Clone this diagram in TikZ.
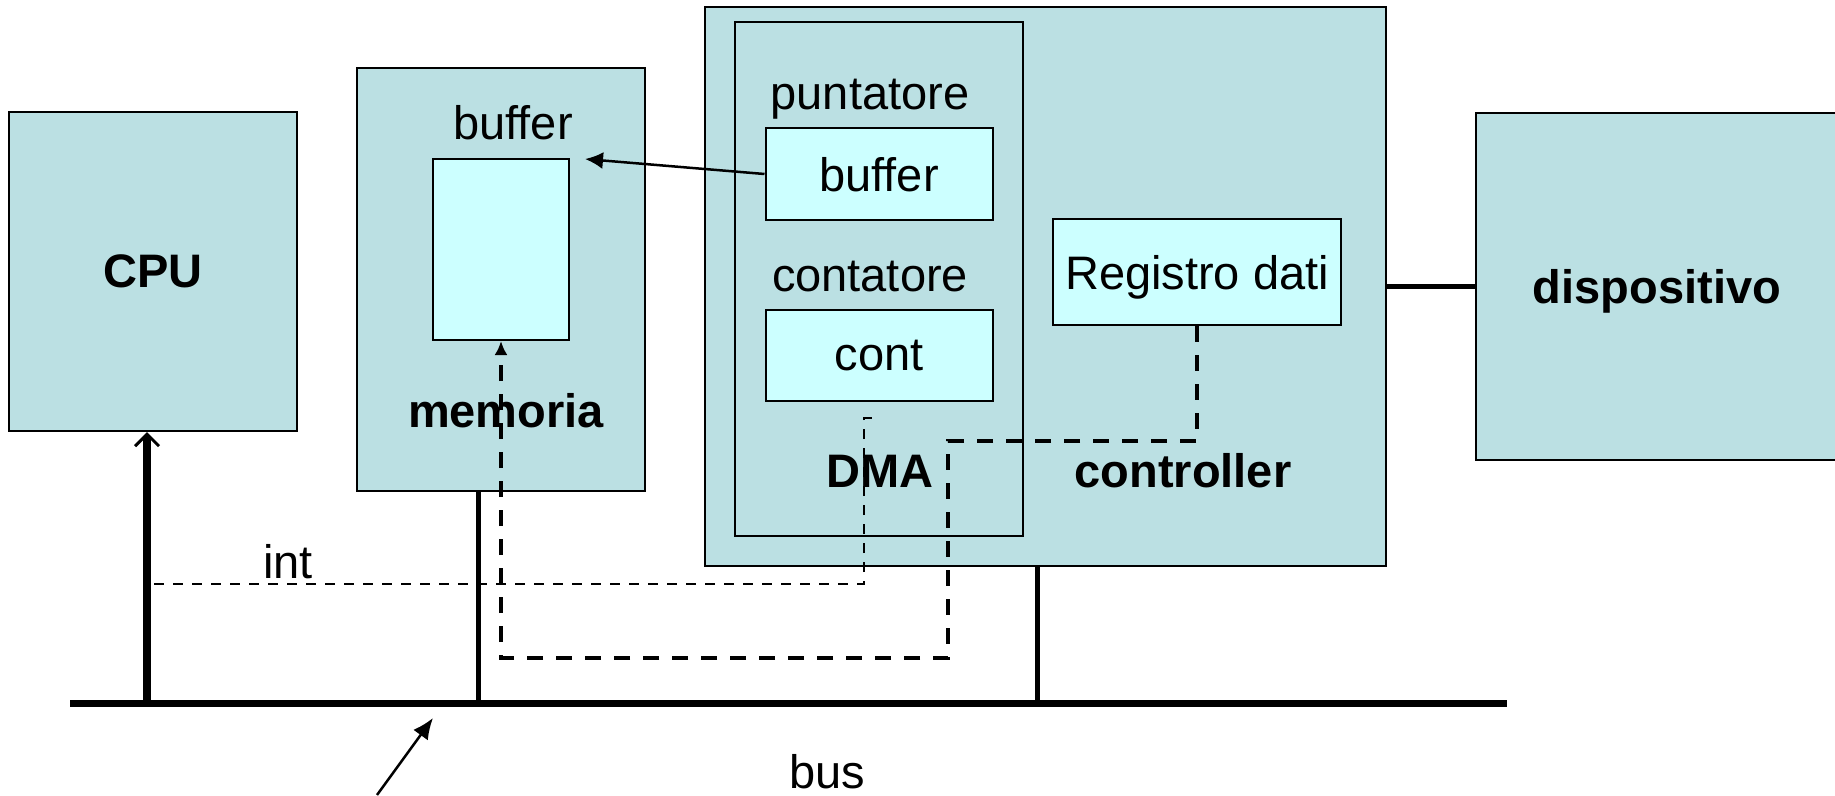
\documentclass[tikz,border=0pt]{standalone}
\usepackage{fontspec}
\setmainfont{Liberation Sans}
\usetikzlibrary{arrows.meta}
\definecolor{boxfill}{RGB}{187,224,227}
\definecolor{regfill}{RGB}{204,255,255}
\tikzset{
  box/.style={draw, line width=2pt, fill=boxfill, inner sep=0pt, text depth=0pt, font=\fontsize{47}{56}\selectfont\bfseries},
  reg/.style={draw, line width=2pt, fill=regfill, inner sep=0pt, text depth=0pt, font=\fontsize{47}{56}\selectfont},
  txt/.style={font=\fontsize{47}{56}\selectfont, inner sep=0pt, anchor=base},
  btxt/.style={txt, font=\fontsize{47}{56}\selectfont\bfseries},
  tap/.style={line width=5pt},
  intline/.style={line width=2.5pt, dash pattern=on 10pt off 9pt},
  dmaline/.style={line width=3.5pt, dash pattern=on 16pt off 13pt},
}
\begin{document}
\begin{tikzpicture}[x=1pt, y=-1pt]
  \useasboundingbox (0,0) rectangle (1835,795);
  % boxes
  \node[box, minimum width=288pt, minimum height=319pt] (cpu) at (153,271.5) {CPU};
  \node[box, minimum width=288pt, minimum height=423pt] (mem) at (501,279.5) {};
  \node[reg, minimum width=136pt, minimum height=181pt] (membuf) at (501,249.5) {};
  \node[box, minimum width=681pt, minimum height=559pt] (ctrl) at (1045.5,286.5) {};
  \node[box, minimum width=288pt, minimum height=514pt, line width=1.5pt] (dma) at (879,279) {};
  \node[reg, minimum width=227pt, minimum height=92pt] (ptr) at (879,174) {buffer};
  \node[reg, minimum width=227pt, minimum height=91pt] (cnt) at (879,355.5) {cont};
  \node[reg, minimum width=288pt, minimum height=106pt] (regdati) at (1197,272) {Registro dati};
  \node[box, minimum width=362pt, minimum height=347pt] (disp) at (1657,286.5) {dispositivo};
  % labels
  \node[txt] (memlbl) at (513,139.5) {buffer};
  \node[btxt] (memname) at (506,427) {memoria};
  \node[txt] (ptrlbl) at (870,109) {puntatore};
  \node[txt] (cntlbl) at (870,291.5) {contatore};
  \node[btxt] (dmaname) at (880,487) {DMA};
  \node[btxt] (ctrlname) at (1183,487) {controller};
  \node[txt] (intlbl) at (288,578) {int};
  \node[txt] (buslbl) at (827,788) {bus};
  % bus and taps
  \coordinate (busL) at (70,703);
  \coordinate (busR) at (1507,703);
  \coordinate (cpuTap) at (147,703);
  \coordinate (memTap) at (478,703);
  \coordinate (ctrlTap) at (1037,703);
  \draw[line width=7pt] (busL) -- (busR);
  \draw[line width=8pt, -{Straight Barb[length=12pt, width=24pt, line width=3pt]}] (cpuTap) -- (cpuTap |- cpu.south);
  \draw[tap] (memTap) -- (memTap |- mem.south);
  \draw[tap] (ctrlTap) -- (ctrlTap |- ctrl.south);
  \draw[tap] (ctrl.east) -- (disp.west);
  % signals
  \coordinate (ptrHead) at (585,159);
  \draw[line width=2.5pt, -{Latex[length=18pt, width=17pt]}] (ptr.west) -- (ptrHead);
  \coordinate (intStart) at (154,584);
  \coordinate (intEnd) at (864,418);
  \draw[intline] (intStart) -| (intEnd) -- ++(14,0);
  \coordinate (turn) at (948,441);
  \coordinate (bot) at (948,658);
  \draw[dmaline, -{Latex[length=14pt, width=13pt]}] (regdati.south) |- (turn) -- (bot) -| (membuf.south);
  \coordinate (busTail) at (377,795);
  \coordinate (busHead) at (433,718);
  \draw[line width=2.5pt, -{Latex[length=21pt, width=18pt]}] (busTail) -- (busHead);
\end{tikzpicture}
\end{document}
